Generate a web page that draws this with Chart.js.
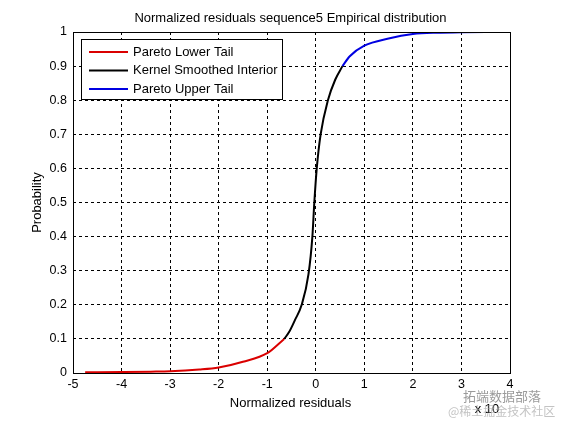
<!DOCTYPE html>
<html>
<head>
<meta charset="utf-8">
<script src="https://cdn.jsdelivr.net/npm/chart.js@4"></script>
<style>
  html, body { margin: 0; padding: 0; background: #fff; }
  #wrap { width: 562px; height: 422px; }
</style>
</head>
<body>
<div id="wrap"><canvas id="cdf" width="562" height="422"></canvas></div>
<script>
// ─── data ───
const lowerX = [-4.75, -4.0, -3.4, -3.0, -2.4, -2.0, -1.5, -1.0, -0.65];
const lowerP = [0.002, 0.003, 0.004, 0.005, 0.010, 0.016, 0.033, 0.058, 0.100];

const interiorX = [-0.65, -0.55, -0.43, -0.29, -0.15, -0.07, -0.03, 0.02, 0.10, 0.25, 0.40, 0.55];
const interiorP = [0.100, 0.120, 0.155, 0.200, 0.290, 0.400, 0.500, 0.600, 0.700, 0.800, 0.860, 0.900];

const upperX = [0.55, 0.70, 1.00, 1.50, 2.00, 2.50, 3.00, 3.50];
const upperP = [0.900, 0.929, 0.960, 0.981, 0.994, 0.998, 0.999, 1.000];

const xTicks = [-5, -4, -3, -2, -1, 0, 1, 2, 3, 4];
const yTicks = [0, 0.1, 0.2, 0.3, 0.4, 0.5, 0.6, 0.7, 0.8, 0.9, 1];

const seriesNames = ['Pareto Lower Tail', 'Kernel Smoothed Interior', 'Pareto Upper Tail'];
const seriesColors = ['rgb(218,0,0)', 'rgb(0,0,0)', 'rgb(0,0,225)'];

const FONT = 'Arial, "Liberation Sans", Helvetica, sans-serif';

const toPoints = (xs, ps) => xs.map((x, i) => ({ x: x, y: ps[i] }));

// plot box fixed to the reference: 73..510 x 32..373
const AREA = { left: 73, top: 32, right: 510, bottom: 373 };

const decorPlugin = {
    id: 'decor',
    afterDraw(chart) {
        const ctx = chart.ctx;
        const a = chart.chartArea;
        ctx.save();

        // axes box
        ctx.strokeStyle = '#000';
        ctx.lineWidth = 1;
        ctx.setLineDash([]);
        ctx.strokeRect(Math.round(a.left) + 0.5, Math.round(a.top) + 0.5,
            Math.round(a.right - a.left), Math.round(a.bottom - a.top));

        // title + axis labels
        ctx.fillStyle = '#000';
        ctx.font = '13px ' + FONT;
        ctx.textAlign = 'center';
        ctx.textBaseline = 'middle';
        ctx.fillText('Normalized residuals sequence5 Empirical distribution', (a.left + a.right) / 2 - 1, 18);
        ctx.fillText('Normalized residuals', (a.left + a.right) / 2 - 1, 403);
        ctx.save();
        ctx.translate(37, (a.top + a.bottom) / 2);
        ctx.rotate(-Math.PI / 2);
        ctx.fillText('Probability', 0, 0);
        ctx.restore();

        ctx.fillText('x 10', 487, 409);

        // legend box
        const lx = 81, ly = 39, lw = 201, lh = 60;
        ctx.fillStyle = '#fff';
        ctx.fillRect(lx, ly, lw, lh);
        ctx.strokeStyle = '#000';
        ctx.strokeRect(lx + 0.5, ly + 0.5, lw, lh);
        ctx.textAlign = 'left';
        chart.data.datasets.forEach((ds, i) => {
            const ry = 52 + i * 18.5;
            ctx.strokeStyle = ds.borderColor;
            ctx.lineWidth = 2;
            ctx.beginPath();
            ctx.moveTo(89, ry);
            ctx.lineTo(128, ry);
            ctx.stroke();
            ctx.fillStyle = '#000';
            ctx.fillText(ds.label, 133, ry);
        });

        // watermark
        ctx.textAlign = 'left';
        ctx.fillStyle = 'rgba(120,120,120,0.75)';
        ctx.font = '13px "Noto Sans CJK SC", sans-serif';
        ctx.fillText('拓端数据部落', 463, 396);
        ctx.fillStyle = 'rgba(170,170,170,0.7)';
        ctx.font = '12px "Noto Sans CJK SC", sans-serif';
        ctx.fillText('@稀土掘金技术社区', 448, 411);

        ctx.restore();
    }
};

new Chart(document.getElementById('cdf').getContext('2d'), {
    type: 'scatter',
    data: {
        datasets: [
            { label: seriesNames[0], data: toPoints(lowerX, lowerP) },
            { label: seriesNames[1], data: toPoints(interiorX, interiorP) },
            { label: seriesNames[2], data: toPoints(upperX, upperP) },
        ].map((ds, i) => Object.assign(ds, {
            showLine: true,
            borderColor: seriesColors[i],
            backgroundColor: seriesColors[i],
            borderWidth: 2,
            pointRadius: 0,
            cubicInterpolationMode: 'monotone',
        })),
    },
    options: {
        responsive: false,
        animation: false,
        layout: { padding: { left: 0, top: AREA.top, right: 562 - AREA.right, bottom: 0 } },
        plugins: {
            legend: { display: false },
            tooltip: { enabled: false },
        },
        scales: {
            x: {
                type: 'linear',
                min: -5,
                max: 4,
                afterFit: (s) => { s.height = 422 - AREA.bottom; },
                afterBuildTicks: (s) => { s.ticks = xTicks.map(v => ({ value: v })); },
                ticks: {
                    color: '#000', font: { size: 12.5, family: FONT }, padding: 4, maxRotation: 0,
                    callback: (v) => String(v),
                },
                grid: { color: '#000', lineWidth: 1, drawTicks: false },
                border: { display: false, dash: [3, 3] },
            },
            y: {
                type: 'linear',
                min: 0,
                max: 1,
                afterFit: (s) => { s.width = AREA.left; },
                afterBuildTicks: (s) => { s.ticks = yTicks.map(v => ({ value: v })); },
                ticks: {
                    color: '#000', font: { size: 12.5, family: FONT }, padding: 6,
                    callback: (v) => String(Math.round(v * 10) / 10),
                },
                grid: { color: '#000', lineWidth: 1, drawTicks: false },
                border: { display: false, dash: [3, 3] },
            },
        },
    },
    plugins: [decorPlugin],
});
</script>
</body>
</html>
